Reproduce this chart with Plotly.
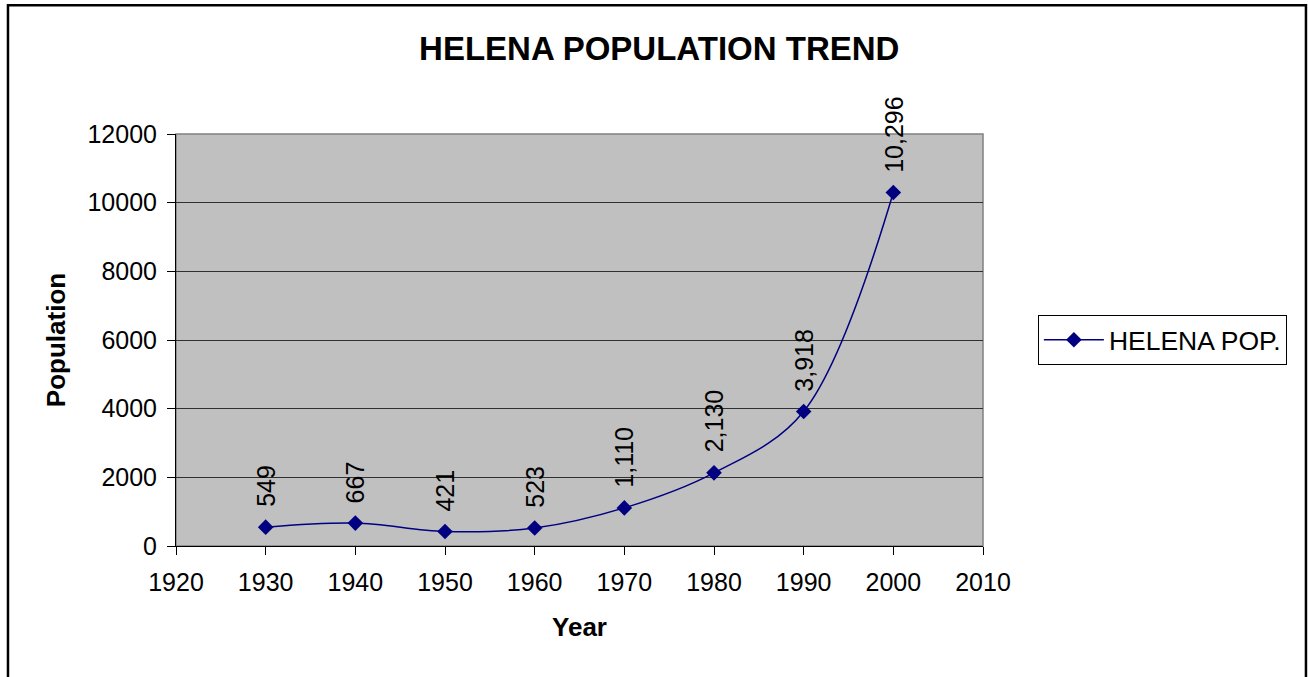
import plotly.graph_objects as go

years = [1930, 1940, 1950, 1960, 1970, 1980, 1990, 2000]
population = [549, 667, 421, 523, 1110, 2130, 3918, 10296]
series_name = "HELENA POP."
x_ticks = [1920, 1930, 1940, 1950, 1960, 1970, 1980, 1990, 2000, 2010]
y_ticks = [0, 2000, 4000, 6000, 8000, 10000, 12000]

FONT = "Liberation Sans, Arial, sans-serif"
NAVY = "#000080"

fig = go.Figure()
fig.add_trace(go.Scatter(
    x=years, y=population, mode="lines+markers", name=series_name,
    line=dict(color=NAVY, width=1.5, shape="spline", smoothing=1.0),
    marker=dict(symbol="diamond", size=12, color=NAVY),
))

for yr, val in zip(years, population):
    fig.add_annotation(
        x=yr, y=val, xref="x", yref="y", text=f"{val:,}",
        textangle=-90, showarrow=False, yanchor="bottom", xanchor="center",
        yshift=18, font=dict(family=FONT, size=25, color="black"),
    )

# plot-area frame (gray top/right)
fig.add_shape(type="rect", xref="paper", yref="paper", x0=0, x1=1, y0=0, y1=1,
              line=dict(color="#808080", width=1.5), layer="below")
# outer chart border
fig.add_shape(type="rect", xref="paper", yref="paper",
              x0=-0.2082, x1=1.4002, y0=-0.6, y1=1.3126,
              line=dict(color="black", width=2.5))

fig.update_layout(
    width=1308, height=677,
    margin=dict(l=176, r=325, t=134, b=131),
    paper_bgcolor="white", plot_bgcolor="#C0C0C0",
    font=dict(family=FONT, size=25, color="black"),
    title=dict(text="<b>HELENA POPULATION TREND</b>", x=0.504, xref="container",
               xanchor="center", y=1 - 48 / 677, yref="container", yanchor="middle",
               font=dict(family=FONT, size=33, color="black")),
    showlegend=True,
    legend=dict(x=1.068, y=0.5, xanchor="left", yanchor="middle",
                bordercolor="black", borderwidth=1, bgcolor="white",
                font=dict(family=FONT, size=26.5, color="black"),
                itemwidth=60),
    xaxis=dict(range=[1920, 2010], tickvals=x_ticks, ticks="outside", ticklen=8,
               tickcolor="black", showline=True, linecolor="black", linewidth=1,
               showgrid=False, zeroline=False, tickformat="d", ticklabelstandoff=6,
               tickfont=dict(family=FONT, size=25),
               title=dict(text="<b>Year</b>", font=dict(family=FONT, size=26), standoff=22)),
    yaxis=dict(range=[0, 12000], tickvals=y_ticks, ticks="outside", ticklen=8,
               tickcolor="black", showline=True, linecolor="black", linewidth=1,
               showgrid=True, gridcolor="#303030", gridwidth=1, zeroline=False,
               tickformat="d", ticklabelstandoff=5,
               tickfont=dict(family=FONT, size=25),
               title=dict(text="<b>Population</b>", font=dict(family=FONT, size=26), standoff=14)),
)

fig.write_html("out.html")
